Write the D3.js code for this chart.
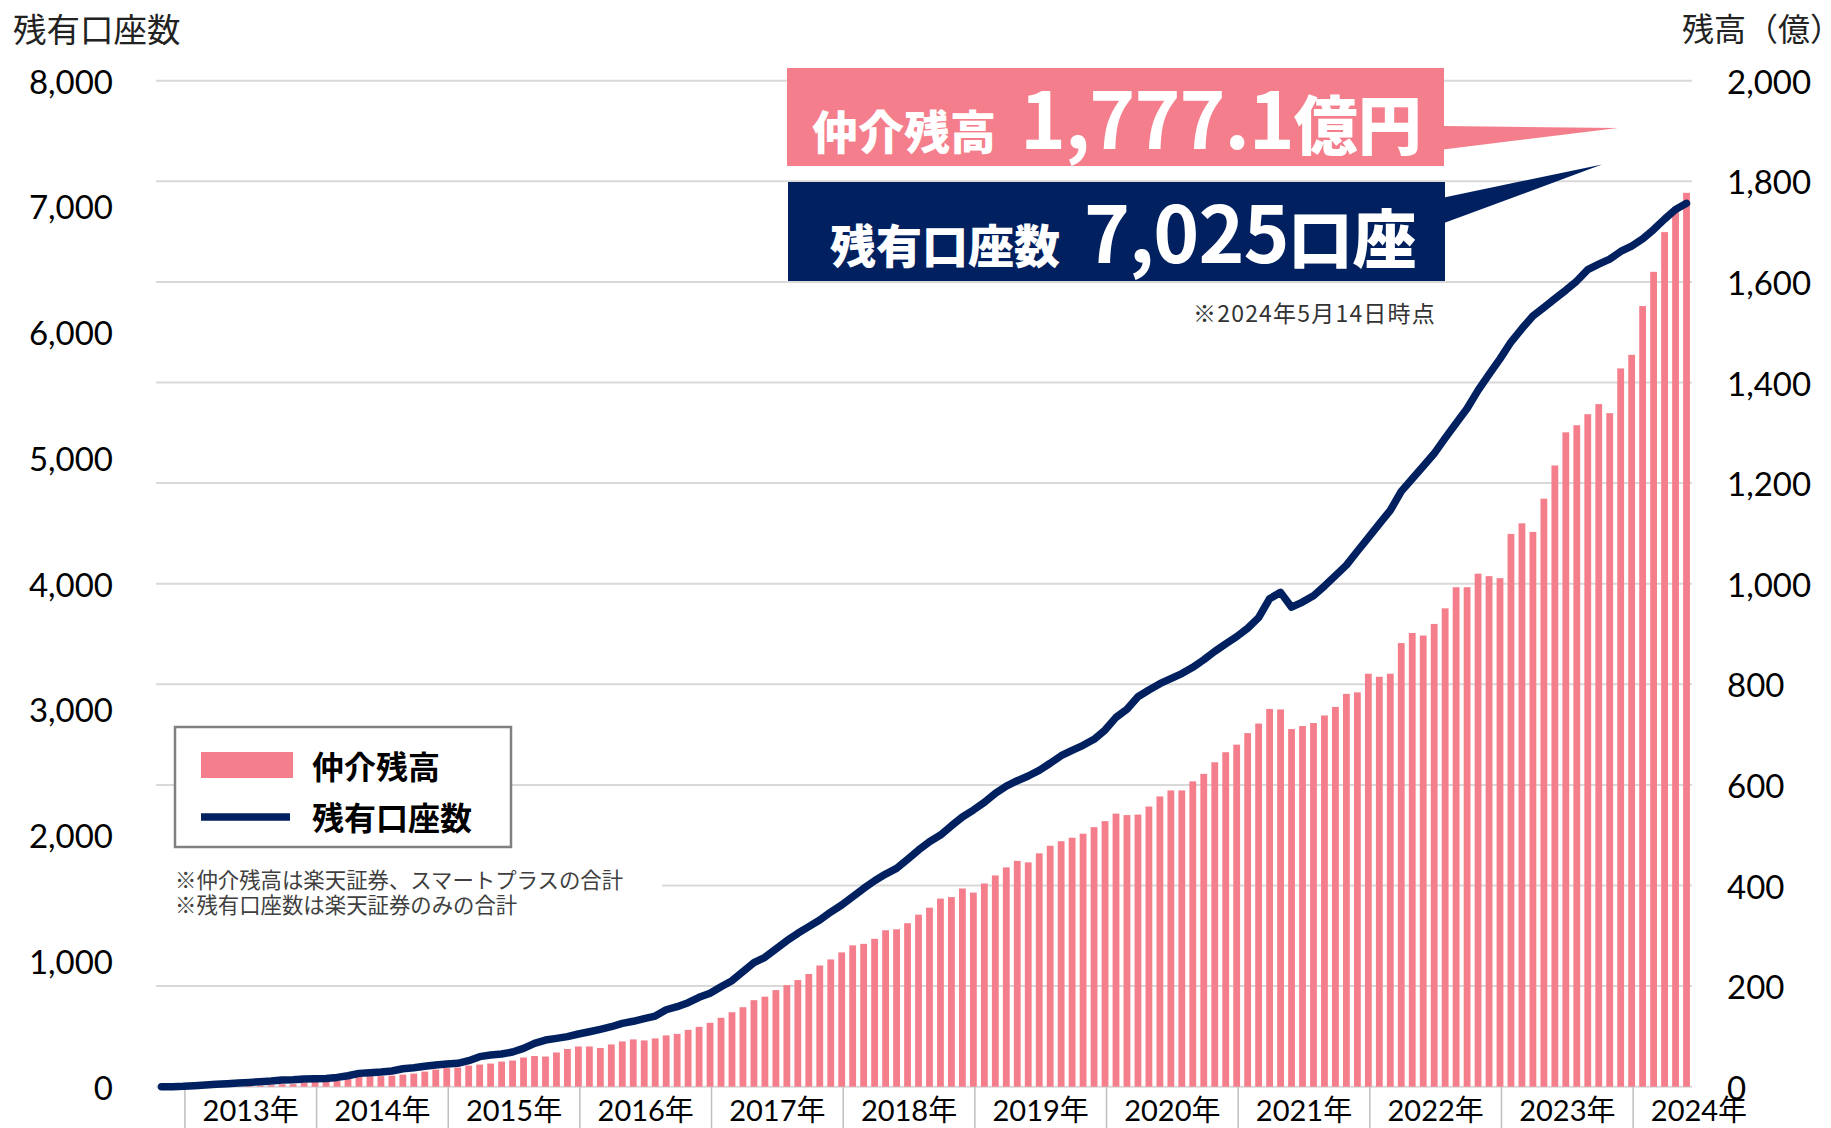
<!DOCTYPE html>
<html><head><meta charset="utf-8">
<script src="https://cdn.jsdelivr.net/npm/d3@7"></script>
<style>html,body{margin:0;padding:0;background:#fff;} svg{display:block;}</style>
</head><body><svg id="c" width="1831" height="1128"></svg>
<script>
// ---------- DATA ----------
// monthly categories: 2012-10 .. 2024-05
const months = d3.timeMonth.range(new Date(2012, 9, 1), new Date(2024, 5, 1)).map(d3.timeFormat("%Y-%m"));
// 仲介残高 (億円) – right axis
const balance = [
  0,0,0,0,0,0,0,0,1,2,
  3,5,5,8,10,10,12,15,20,21,
  21,22,24,26,30,34,37,38,42,44,
  46,50,52,58,61,60,68,75,80,80,
  77,84,90,94,92,96,102,105,113,119,
  127,137,148,158,172,179,192,202,212,224,
  241,253,267,281,284,294,311,313,325,342,
  356,374,377,394,386,404,420,436,449,446,
  464,479,488,495,503,516,528,543,540,541,
  557,577,589,589,607,622,645,665,680,703,
  722,751,750,711,717,723,738,755,781,784,
  821,815,821,882,902,897,920,951,993,993,
  1020,1015,1011,1099,1120,1103,1169,1235,1301,1315,
  1337,1357,1339,1428,1455,1552,1620,1699,1749,1777.1
];
// 残有口座数 – left axis
const accounts = [
  0,0,3,8,13,19,24,29,34,40,
  45,53,56,61,64,66,74,87,106,111,
  117,125,143,151,162,172,180,186,207,239,
  252,260,276,305,345,371,384,398,419,437,
  456,477,504,520,541,562,612,636,668,711,
  743,795,843,915,986,1029,1095,1161,1220,1273,
  1325,1389,1445,1511,1577,1638,1691,1736,1808,1882,
  1948,2001,2075,2145,2200,2261,2333,2391,2433,2471,
  2516,2572,2632,2675,2715,2763,2836,2937,3001,3101,
  3155,3205,3245,3285,3335,3395,3462,3522,3579,3646,
  3730,3881,3931,3813,3854,3904,3981,4064,4148,4258,
  4366,4476,4583,4734,4834,4934,5035,5158,5276,5393,
  5537,5664,5788,5922,6029,6129,6196,6266,6334,6407,
  6498,6541,6581,6642,6685,6742,6816,6899,6976,7025
];
const years = ["2013","2014","2015","2016","2017","2018","2019","2020","2021","2022","2023","2024"];
const yearLabels = years.map(y => y + "年");
const leftTicks = [0,1000,2000,3000,4000,5000,6000,7000,8000];
const rightTicks = [0,200,400,600,800,1000,1200,1400,1600,1800,2000];
const seriesNames = ["仲介残高", "残有口座数"];
const notes = ["※仲介残高は楽天証券、スマートプラスの合計", "※残有口座数は楽天証券のみの合計"];

// ---------- STYLE ----------
const PINK = "#F47E8B", NAVY = "#002060", GRID = "#D9D9D9";
const NUM_FONT = "Lato, 'Noto Sans CJK JP', sans-serif";
const JP_FONT = "'Noto Sans CJK JP', sans-serif";

const svg = d3.select("#c");
const X0 = 156, X1 = 1692, YT = 80.7, YB = 1086.7;

const x = d3.scaleBand().domain(months).range([X0, X1]).paddingInner(0.38).paddingOuter(0.19);
const yR = d3.scaleLinear().domain([0, 2000]).range([YB, YT]);
const yL = d3.scaleLinear().domain([0, 8000]).range([YB, YT]);
const step = x.step(), bw = x.bandwidth();
const boundary = m => x(m) - (step - bw) / 2;
const TICK_SHIFT = -4;

// gridlines (right axis)
svg.append("g").selectAll("line").data(rightTicks).join("line")
  .attr("x1", X0).attr("x2", X1)
  .attr("y1", d => yR(d)).attr("y2", d => yR(d))
  .attr("stroke", GRID).attr("stroke-width", 2);

// bars
svg.append("g").selectAll("rect").data(balance).join("rect")
  .attr("x", (d, i) => x(months[i]))
  .attr("width", bw)
  .attr("y", d => yR(d))
  .attr("height", d => YB - yR(d))
  .attr("fill", PINK);

// year ticks & labels
const yearStarts = years.map(y => y + "-01");
svg.append("g").selectAll("line").data(yearStarts).join("line")
  .attr("x1", d => boundary(d) + TICK_SHIFT).attr("x2", d => boundary(d) + TICK_SHIFT)
  .attr("y1", YB).attr("y2", 1128)
  .attr("stroke", "#BFBFBF").attr("stroke-width", 1.5);
svg.append("g").selectAll("text").data(yearLabels).join("text")
  .attr("x", (d, i) => boundary(yearStarts[i]) + TICK_SHIFT + 6 * step)
  .attr("y", 1109)
  .attr("text-anchor", "middle").attr("dominant-baseline", "central")
  .attr("font-family", NUM_FONT).attr("font-size", 29).attr("fill", "#000")
  .text(d => d);

// line
const line = d3.line().x((d, i) => x(months[i]) + bw / 2).y(d => yL(d));
svg.append("path").datum(accounts).attr("d", line)
  .attr("fill", "none").attr("stroke", NAVY).attr("stroke-width", 7.5)
  .attr("stroke-linejoin", "round").attr("stroke-linecap", "round");

// left axis labels
svg.append("g").selectAll("text").data(leftTicks).join("text")
  .attr("x", 113).attr("y", d => yL(d))
  .attr("text-anchor", "end").attr("dominant-baseline", "central")
  .attr("font-family", NUM_FONT).attr("font-size", 33).attr("fill", "#000")
  .text(d => d3.format(",")(d));
// right axis labels
svg.append("g").selectAll("text").data(rightTicks).join("text")
  .attr("x", 1727).attr("y", d => yR(d))
  .attr("text-anchor", "start").attr("dominant-baseline", "central")
  .attr("font-family", NUM_FONT).attr("font-size", 33).attr("fill", "#000")
  .text(d => d3.format(",")(d));

// axis titles
svg.append("text").attr("x", 13).attr("y", 27).attr("dominant-baseline", "central")
  .attr("font-family", JP_FONT).attr("font-size", 33.5).attr("fill", "#222").text("残有口座数");
svg.append("text").attr("x", 1682).attr("y", 27).attr("dominant-baseline", "central")
  .attr("font-family", JP_FONT).attr("font-size", 32).attr("fill", "#222").text("残高（億）");

// legend
const lg = svg.append("g");
lg.append("rect").attr("x", 175).attr("y", 727).attr("width", 336).attr("height", 120)
  .attr("fill", "#fff").attr("stroke", "#808080").attr("stroke-width", 2.5);
lg.append("rect").attr("x", 201).attr("y", 752).attr("width", 92).attr("height", 26).attr("fill", PINK);
lg.append("line").attr("x1", 201).attr("x2", 290).attr("y1", 817).attr("y2", 817)
  .attr("stroke", NAVY).attr("stroke-width", 7.5);
lg.selectAll("text.lt").data(seriesNames).join("text").attr("class", "lt")
  .attr("x", 312).attr("y", (d, i) => i === 0 ? 765 : 816)
  .attr("dominant-baseline", "central")
  .attr("font-family", JP_FONT).attr("font-weight", 700).attr("font-size", 32).attr("fill", "#000")
  .text(d => d);

// notes
svg.append("rect").attr("x", 150).attr("y", 866).attr("width", 512).attr("height", 48).attr("fill", "#fff");
svg.append("g").selectAll("text").data(notes).join("text")
  .attr("x", 175).attr("y", (d, i) => 878 + i * 25)
  .attr("dominant-baseline", "central")
  .attr("font-family", JP_FONT).attr("font-size", 21.4).attr("fill", "#404040")
  .text(d => d);

// annotation callouts
const ann = svg.append("g");
ann.append("rect").attr("x", 787).attr("y", 68).attr("width", 657).attr("height", 98).attr("fill", PINK);
ann.append("polygon").attr("points", "1443,126 1618,128 1443,149.5").attr("fill", PINK);
ann.append("rect").attr("x", 788).attr("y", 182).attr("width", 657).attr("height", 99).attr("fill", NAVY);
ann.append("polygon").attr("points", "1444,197.5 1602,164.5 1444,223").attr("fill", NAVY);

const t1 = ann.append("text").attr("x", 812).attr("y", 149)
  .attr("font-family", JP_FONT).attr("font-weight", 900).attr("fill", "#fff");
t1.append("tspan").attr("font-size", 46).text("仲介残高");
t1.append("tspan").attr("dx", 24).attr("font-size", 78).attr("font-weight", 700).attr("letter-spacing", -1)
  .text(d3.format(",.1f")(balance[balance.length - 1]));
t1.append("tspan").attr("font-size", 64).attr("letter-spacing", 0).text("億円");

const t2 = ann.append("text").attr("x", 830).attr("y", 263)
  .attr("font-family", JP_FONT).attr("font-weight", 900).attr("fill", "#fff");
t2.append("tspan").attr("font-size", 46).text("残有口座数");
t2.append("tspan").attr("dx", 24).attr("font-size", 78).attr("font-weight", 700).attr("letter-spacing", -1)
  .text(d3.format(",")(accounts[accounts.length - 1]));
t2.append("tspan").attr("font-size", 64).attr("letter-spacing", 0).text("口座");

ann.append("text").attr("x", 1193).attr("y", 312).attr("dominant-baseline", "central")
  .attr("font-family", JP_FONT).attr("font-size", 23).attr("letter-spacing", 1.2).attr("fill", "#333")
  .text("※2024年5月14日時点");
</script></body></html>
